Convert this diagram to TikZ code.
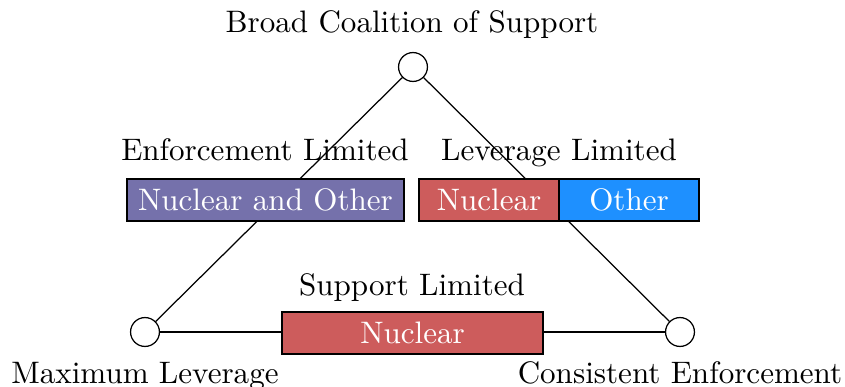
\documentclass[tikz,border=0pt]{standalone}
\begin{document}
\begin{tikzpicture}[x=0.3219pt,y=-0.3219pt,
  vertex/.style={circle,draw,fill=white,minimum size=9.3pt,inner sep=0pt},
  box/.style={draw,text=white,minimum height=13.5pt,inner sep=0pt},
  lab/.style={anchor=base,inner sep=0pt}]
\definecolor{cpurple}{RGB}{117,113,171}
\definecolor{cred}{RGB}{205,92,92}
\definecolor{cblue}{RGB}{30,144,255}
\useasboundingbox (0,0) rectangle (845,387);
\node[vertex] (top) at (413,67) {};
\node[vertex] (bl) at (145,332) {};
\node[vertex] (br) at (680,332) {};
\draw (top) -- (bl);
\draw (top) -- (br);
\draw (bl) -- (br);
\node[box,fill=cpurple,minimum width=89.2pt] (no) at (265.5,200) {Nuclear and Other};
\node[box,fill=cred,minimum width=45.1pt] (n1) at (489,200) {Nuclear};
\node[box,fill=cblue,minimum width=45.1pt] (o1) at (629,200) {Other};
\node[box,fill=cred,minimum width=84pt] (n2) at (412.5,333) {Nuclear};
\node[lab] (t1) at (412,33) {Broad Coalition of Support};
\node[lab] (t2) at (265,160) {Enforcement Limited};
\node[lab] (t3) at (559,160) {Leverage Limited};
\node[lab] (t4) at (412,295) {Support Limited};
\node[lab] (t5) at (145,383) {Maximum Leverage};
\node[lab] (t6) at (680,383) {Consistent Enforcement};
\end{tikzpicture}
\end{document}
